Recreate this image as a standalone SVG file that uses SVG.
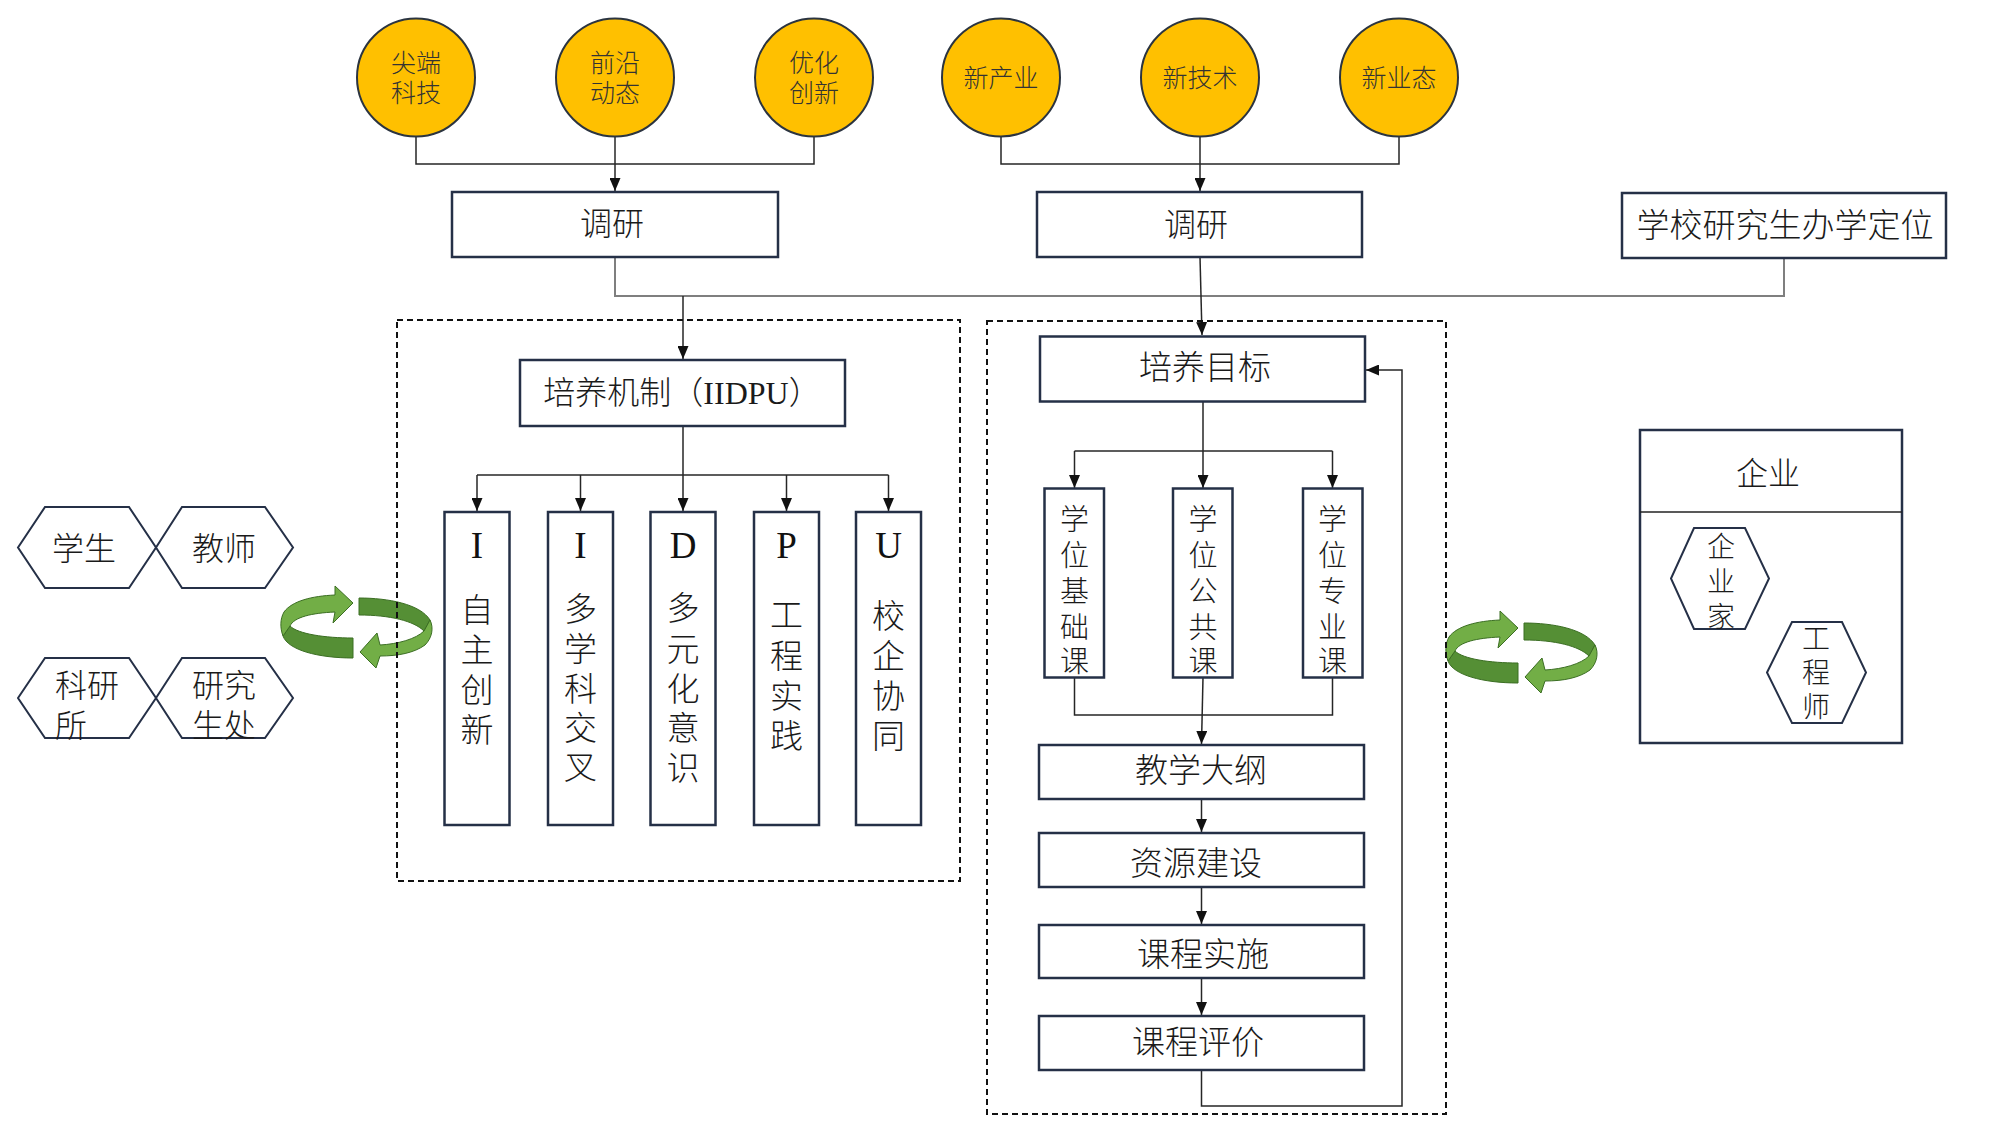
<svg xmlns="http://www.w3.org/2000/svg" width="2000" height="1125" viewBox="0 0 2000 1125">
<style>
.box{fill:#fff;stroke:#253047;stroke-width:2.5}
.circ{fill:#FFC000;stroke:#2b3440;stroke-width:2}
.hex{fill:#fff;stroke:#253047;stroke-width:2}
.ln{fill:none;stroke:#262626;stroke-width:1.5}
.gl{fill:none;stroke:#7f7f7f;stroke-width:2}
.dash{fill:none;stroke:#111;stroke-width:2;stroke-dasharray:6 4}
.t{font-family:"Liberation Serif","Noto Sans CJK SC",serif;fill:#1a1a1a;text-anchor:middle;dominant-baseline:central;font-weight:300}
.tl{font-family:"Liberation Serif","Noto Sans CJK SC",serif;fill:#1a1a1a;dominant-baseline:central;font-weight:300}
.ct{font-family:"Liberation Serif","Noto Sans CJK SC",serif;fill:#333;text-anchor:middle;dominant-baseline:central;font-size:25px;font-weight:300}
.lt{font-family:"Liberation Serif",serif;fill:#111;text-anchor:middle;font-size:37px}
.gdk{fill:#558f35;stroke:#3b6e23;stroke-width:1}
.glt{fill:#72ae46;stroke:#3b6e23;stroke-width:1}
</style>
<defs>
<marker id="ar" viewBox="0 0 13 11" refX="13" refY="5.5" markerWidth="13" markerHeight="11" orient="auto" markerUnits="userSpaceOnUse"><path d="M0,0 L13,5.5 L0,11 z" fill="#111"/></marker>
<g id="cycshape">
<path class="gdk" d="M290,626 C298,634 325,638 353,638 L353,658 C318,658 288,650 283,636 Z"/>
<path class="glt" d="M335,586 L353,603 L333,623 L335,612 C312,613 294,617 290,626 L283,636 C280,628 280,619 284,612 C292,601 312,596 335,595 Z"/>
<path class="gdk" d="M359,598 C388,598 420,604 430,620 L424,631 C414,621 390,615 359,615 Z"/>
<path class="glt" d="M360,652 L377,633 L380,645 C398,644 416,639 424,631 L430,620 C434,628 432,638 425,645 C414,653 398,656 380,656 L376,668 Z"/>
</g>
</defs>
<rect width="2000" height="1125" fill="#fff"/>

<!-- green cycle arrows -->
<g id="cycle-left"><use href="#cycshape"/></g>
<g id="cycle-right"><use href="#cycshape" transform="translate(1165,25)"/></g>

<!-- connectors -->
<g id="connectors">
<path class="ln" d="M416,137 V164 H814 V137"/>
<path class="ln" d="M615,137 V191" marker-end="url(#ar)"/>
<path class="ln" d="M1001,137 V164 H1399 V137"/>
<path class="ln" d="M1200,137 V191" marker-end="url(#ar)"/>
<path class="gl" d="M615,257 V296 H1784 V258"/>
<path class="ln" d="M683,296 V359" marker-end="url(#ar)"/>
<path class="ln" d="M1200,257 L1202,335" marker-end="url(#ar)"/>
<path class="ln" d="M683,426 V511" marker-end="url(#ar)"/>
<path class="ln" d="M477,475 H888.5"/>
<path class="ln" d="M477,475 V511" marker-end="url(#ar)"/>
<path class="ln" d="M580.5,475 V511" marker-end="url(#ar)"/>
<path class="ln" d="M786.5,475 V511" marker-end="url(#ar)"/>
<path class="ln" d="M888.5,475 V511" marker-end="url(#ar)"/>
<path class="ln" d="M1203,402 V488" marker-end="url(#ar)"/>
<path class="ln" d="M1074.5,451 H1332.5"/>
<path class="ln" d="M1074.5,451 V488" marker-end="url(#ar)"/>
<path class="ln" d="M1332.5,451 V488" marker-end="url(#ar)"/>
<path class="ln" d="M1074.5,677.5 V715 H1332.5 V677.5"/>
<path class="ln" d="M1203,677.5 L1201.5,744" marker-end="url(#ar)"/>
<path class="ln" d="M1201.5,799 V832" marker-end="url(#ar)"/>
<path class="ln" d="M1201.5,887 V924" marker-end="url(#ar)"/>
<path class="ln" d="M1201.5,978 V1015" marker-end="url(#ar)"/>
<path class="ln" d="M1201.5,1070 V1106 H1402 V370 H1366" marker-end="url(#ar)"/>
</g>

<!-- dashed containers -->
<g id="container-mechanism"><rect class="dash" x="397" y="320" width="563" height="561"/></g>
<g id="container-goals"><rect class="dash" x="987" y="321" width="459" height="793"/></g>

<!-- circles -->
<g id="c1"><circle class="circ" cx="416" cy="77.5" r="59"/><text class="ct" x="416" y="63">尖端</text><text class="ct" x="416" y="93">科技</text></g>
<g id="c2"><circle class="circ" cx="615" cy="77.5" r="59"/><text class="ct" x="615" y="63">前沿</text><text class="ct" x="615" y="93">动态</text></g>
<g id="c3"><circle class="circ" cx="814" cy="77.5" r="59"/><text class="ct" x="814" y="63">优化</text><text class="ct" x="814" y="93">创新</text></g>
<g id="c4"><circle class="circ" cx="1001" cy="77.5" r="59"/><text class="ct" x="1001" y="78">新产业</text></g>
<g id="c5"><circle class="circ" cx="1200" cy="77.5" r="59"/><text class="ct" x="1200" y="78">新技术</text></g>
<g id="c6"><circle class="circ" cx="1399" cy="77.5" r="59"/><text class="ct" x="1399" y="78">新业态</text></g>

<!-- top boxes -->
<g id="survey1"><rect class="box" x="452" y="192" width="326" height="65"/><text class="t" x="612" y="224" font-size="32">调研</text></g>
<g id="survey2"><rect class="box" x="1037" y="192" width="325" height="65"/><text class="t" x="1196" y="225" font-size="32">调研</text></g>
<g id="positioning"><rect class="box" x="1622" y="193" width="324" height="65"/><text class="t" x="1785" y="226" font-size="33">学校研究生办学定位</text></g>

<!-- mechanism -->
<g id="mechanism"><rect class="box" x="520" y="360" width="325" height="66"/><text class="t" x="682" y="393" font-size="32">培养机制（IIDPU）</text></g>
<g id="m-I1"><rect class="box" x="444.5" y="512" width="65" height="313"/><text class="lt" x="477" y="558">I</text>
<text class="t" font-size="33"><tspan x="477" y="611">自</tspan><tspan x="477" y="651">主</tspan><tspan x="477" y="691">创</tspan><tspan x="477" y="731">新</tspan></text></g>
<g id="m-I2"><rect class="box" x="548" y="512" width="65" height="313"/><text class="lt" x="580.5" y="558">I</text>
<text class="t" font-size="33"><tspan x="580.5" y="610">多</tspan><tspan x="580.5" y="650">学</tspan><tspan x="580.5" y="690">科</tspan><tspan x="580.5" y="729">交</tspan><tspan x="580.5" y="768">叉</tspan></text></g>
<g id="m-D"><rect class="box" x="650.5" y="512" width="65" height="313"/><text class="lt" x="683" y="558">D</text>
<text class="t" font-size="33"><tspan x="683" y="609">多</tspan><tspan x="683" y="650">元</tspan><tspan x="683" y="690">化</tspan><tspan x="683" y="729">意</tspan><tspan x="683" y="769">识</tspan></text></g>
<g id="m-P"><rect class="box" x="754" y="512" width="65" height="313"/><text class="lt" x="786.5" y="558">P</text>
<text class="t" font-size="33"><tspan x="786.5" y="616">工</tspan><tspan x="786.5" y="657">程</tspan><tspan x="786.5" y="697">实</tspan><tspan x="786.5" y="737">践</tspan></text></g>
<g id="m-U"><rect class="box" x="856" y="512" width="65" height="313"/><text class="lt" x="888.5" y="558">U</text>
<text class="t" font-size="33"><tspan x="888.5" y="617">校</tspan><tspan x="888.5" y="657">企</tspan><tspan x="888.5" y="697">协</tspan><tspan x="888.5" y="737">同</tspan></text></g>

<!-- left hexagons -->
<g id="h-student"><polygon class="hex" points="18,547.5 45,507 129,507 156,547.5 129,588 45,588"/><text class="t" x="84" y="549" font-size="32">学生</text></g>
<g id="h-teacher"><polygon class="hex" points="156,547.5 182,507 265,507 293,547.5 265,588 182,588"/><text class="t" x="224" y="549" font-size="32">教师</text></g>
<g id="h-institute"><polygon class="hex" points="18,698 45,658 129,658 156,698 129,738 45,738"/><text class="tl" font-size="32"><tspan x="55" y="686">科研</tspan><tspan x="55" y="726">所</tspan></text></g>
<g id="h-gradoffice"><polygon class="hex" points="156,698 182,658 265,658 293,698 265,738 182,738"/><text class="tl" font-size="32"><tspan x="192" y="686">研究</tspan><tspan x="192" y="726">生处</tspan></text></g>

<!-- goals chain -->
<g id="goal"><rect class="box" x="1040" y="336.5" width="325" height="65"/><text class="t" x="1205" y="368" font-size="33">培养目标</text></g>
<g id="course-basic"><rect class="box" x="1044.5" y="488.5" width="59.5" height="189"/>
<text class="t" font-size="29"><tspan x="1074.5" y="520">学</tspan><tspan x="1074.5" y="556">位</tspan><tspan x="1074.5" y="592">基</tspan><tspan x="1074.5" y="627.5">础</tspan><tspan x="1074.5" y="662">课</tspan></text></g>
<g id="course-public"><rect class="box" x="1173" y="488.5" width="59.5" height="189"/>
<text class="t" font-size="29"><tspan x="1203" y="520">学</tspan><tspan x="1203" y="556">位</tspan><tspan x="1203" y="592">公</tspan><tspan x="1203" y="627.5">共</tspan><tspan x="1203" y="662">课</tspan></text></g>
<g id="course-major"><rect class="box" x="1303" y="488.5" width="59.5" height="189"/>
<text class="t" font-size="29"><tspan x="1332.5" y="520">学</tspan><tspan x="1332.5" y="556">位</tspan><tspan x="1332.5" y="592">专</tspan><tspan x="1332.5" y="627.5">业</tspan><tspan x="1332.5" y="662">课</tspan></text></g>
<g id="syllabus"><rect class="box" x="1039" y="745" width="325" height="54"/><text class="t" x="1201" y="771" font-size="33">教学大纲</text></g>
<g id="resources"><rect class="box" x="1039" y="833" width="325" height="54"/><text class="t" x="1196" y="864" font-size="33">资源建设</text></g>
<g id="implementation"><rect class="box" x="1039" y="925" width="325" height="53"/><text class="t" x="1203" y="955" font-size="33">课程实施</text></g>
<g id="evaluation"><rect class="box" x="1039" y="1016" width="325" height="54"/><text class="t" x="1198" y="1043" font-size="33">课程评价</text></g>

<!-- enterprise -->
<g id="enterprise"><rect class="box" x="1640" y="430" width="262" height="313"/><line x1="1640" y1="512" x2="1902" y2="512" stroke="#222" stroke-width="1.5"/><text class="t" x="1768" y="474" font-size="32">企业</text></g>
<g id="h-entrepreneur"><polygon class="hex" points="1671,578.5 1694,528 1745,528 1769,578.5 1745,629 1694,629"/>
<text class="t" font-size="28"><tspan x="1721" y="547">企</tspan><tspan x="1721" y="582">业</tspan><tspan x="1721" y="617">家</tspan></text></g>
<g id="h-engineer"><polygon class="hex" points="1767,672.5 1792,622 1842,622 1866,672.5 1842,723 1792,723"/>
<text class="t" font-size="28"><tspan x="1816" y="639">工</tspan><tspan x="1816" y="673">程</tspan><tspan x="1816" y="707">师</tspan></text></g>
</svg>
